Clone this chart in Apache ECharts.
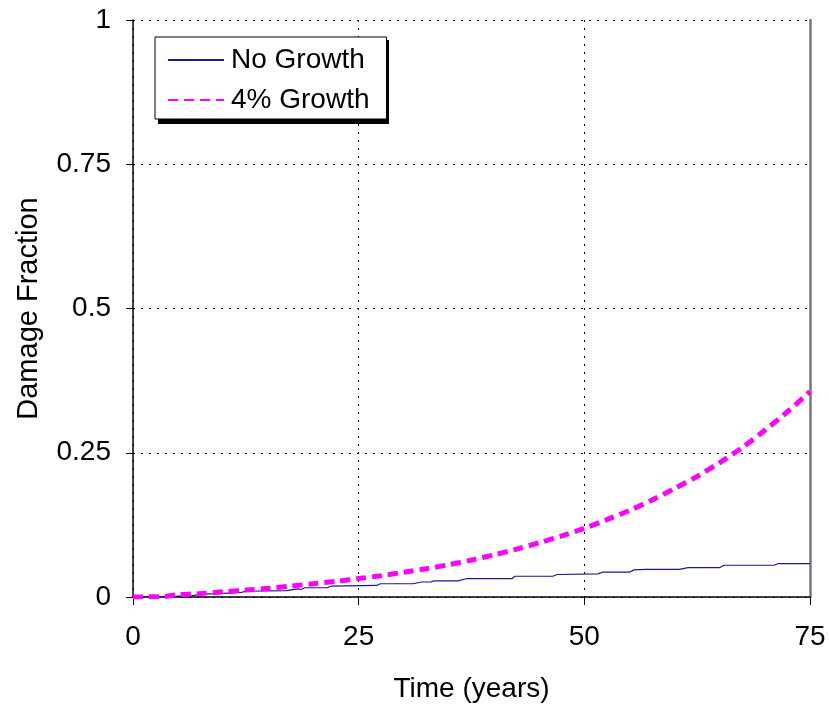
<!DOCTYPE html>
<html>
<head>
<meta charset="utf-8">
<script src="https://cdn.jsdelivr.net/npm/echarts@6/dist/echarts.min.js"></script>
<style>html,body{margin:0;padding:0;background:#fff}#c{width:829px;height:708px}</style>
</head>
<body>
<div id="c"></div>
<script>
var xTicks = [0, 25, 50, 75];
var yTicks = [0, 0.25, 0.5, 0.75, 1];
var seriesNames = ['No Growth', '4% Growth'];
var noGrowthT = [0, 4, 6.5, 7.5, 9.5, 12, 12.5, 17, 18.3, 18.6, 19, 21.5, 22, 27, 27.4, 31, 32, 33, 33.3, 36, 37, 42, 42.3, 46.5, 47, 51.5, 52, 55, 55.5, 56.8, 60.5, 61.5, 65, 65.5, 71, 71.5, 75];
var noGrowthV = [0, 0.001, 0.002, 0.005, 0.006, 0.008, 0.010, 0.011, 0.014, 0.013, 0.016, 0.016, 0.019, 0.020, 0.023, 0.023, 0.026, 0.026, 0.028, 0.028, 0.032, 0.032, 0.036, 0.036, 0.039, 0.040, 0.043, 0.043, 0.047, 0.048, 0.048, 0.051, 0.051, 0.055, 0.055, 0.058, 0.058];
var growthT = [0, 3.5, 5, 7.5, 10, 12.5, 15, 17.5, 20, 22.5, 25, 27.5, 30, 32.5, 35, 37.5, 40, 42.5, 45, 47.5, 50, 52.5, 55, 57.5, 60, 62.5, 65, 67.5, 70, 72.5, 75];
var growthV = [0, 0.001, 0.004, 0.006, 0.009, 0.012, 0.015, 0.019, 0.023, 0.027, 0.032, 0.037, 0.043, 0.049, 0.056, 0.064, 0.073, 0.083, 0.094, 0.106, 0.119, 0.134, 0.150, 0.168, 0.188, 0.209, 0.233, 0.259, 0.289, 0.321, 0.356];

function pairs(t, v) { return t.map(function (x, i) { return [x, v[i]]; }); }

var font = 'Liberation Sans, Arial, sans-serif';
var chart = echarts.init(document.getElementById('c'));
chart.setOption({
  animation: false,
  backgroundColor: '#fff',
  grid: { left: 133, right: 19, top: 20, bottom: 111, containLabel: false, outerBoundsMode: 'none' },
  graphic: [{
    type: 'rect', z: 3, zlevel: 0,
    shape: { x: 158, y: 40, width: 231, height: 84 },
    style: { fill: '#000' }
  }],
  legend: {
    orient: 'vertical',
    left: 155, top: 37, z: 5,
    padding: [9, 17, 5, 12],
    itemGap: 12,
    itemWidth: 56, itemHeight: 14,
    backgroundColor: '#fff',
    borderColor: '#000', borderWidth: 1,
    itemStyle: { opacity: 0 },
    textStyle: { fontFamily: font, fontSize: 28, color: '#000', padding: [0, 0, 0, 2] },
    data: seriesNames
  },
  xAxis: {
    type: 'value', min: 0, max: 75, interval: 25,
    name: 'Time (years)', nameLocation: 'middle', nameGap: 78,
    nameTextStyle: { fontFamily: font, fontSize: 28, color: '#000' },
    axisLine: { show: true, onZero: false, lineStyle: { color: '#000', width: 1.5 } },
    axisTick: { show: true, length: 8, lineStyle: { color: '#000' } },
    axisLabel: { fontFamily: font, fontSize: 28, color: '#000', margin: 26, formatter: function (v) { return xTicks.indexOf(v) >= 0 ? String(v) : ''; } },
    splitLine: { show: true, lineStyle: { color: '#000', type: [2, 6], width: 1 } }
  },
  yAxis: [{
    type: 'value', min: 0, max: 1, interval: 0.25,
    name: 'Damage Fraction', nameLocation: 'middle', nameGap: 90,
    nameTextStyle: { fontFamily: font, fontSize: 29, color: '#000' },
    axisLine: { show: true, lineStyle: { color: '#000', width: 1.5 } },
    axisTick: { show: true, length: 7, lineStyle: { color: '#000' } },
    axisLabel: { fontFamily: font, fontSize: 28, color: '#000', margin: 22, formatter: function (v) { return yTicks.indexOf(v) >= 0 ? String(v) : ''; } },
    splitLine: { show: true, lineStyle: { color: '#000', type: [2, 6], width: 1 } }
  }, {
    type: 'value', min: 0, max: 1, interval: 0.25, position: 'right',
    axisLine: { show: true, lineStyle: { color: '#777', width: 2.5 } },
    axisTick: { show: false }, axisLabel: { show: false }, splitLine: { show: false }
  }],
  series: [{
    name: seriesNames[0], type: 'line', symbol: 'none', z: 1,
    data: pairs(noGrowthT, noGrowthV),
    itemStyle: { color: '#1a1a8c' },
    lineStyle: { color: '#1a1a8c', width: 1.2 }
  }, {
    name: seriesNames[1], type: 'line', symbol: 'none', smooth: 0.3, z: 2,
    data: pairs(growthT, growthV),
    itemStyle: { color: '#ff00ff' },
    lineStyle: { color: '#ff00ff', width: 5, type: [10, 6] }
  }]
});
</script>
</body>
</html>
